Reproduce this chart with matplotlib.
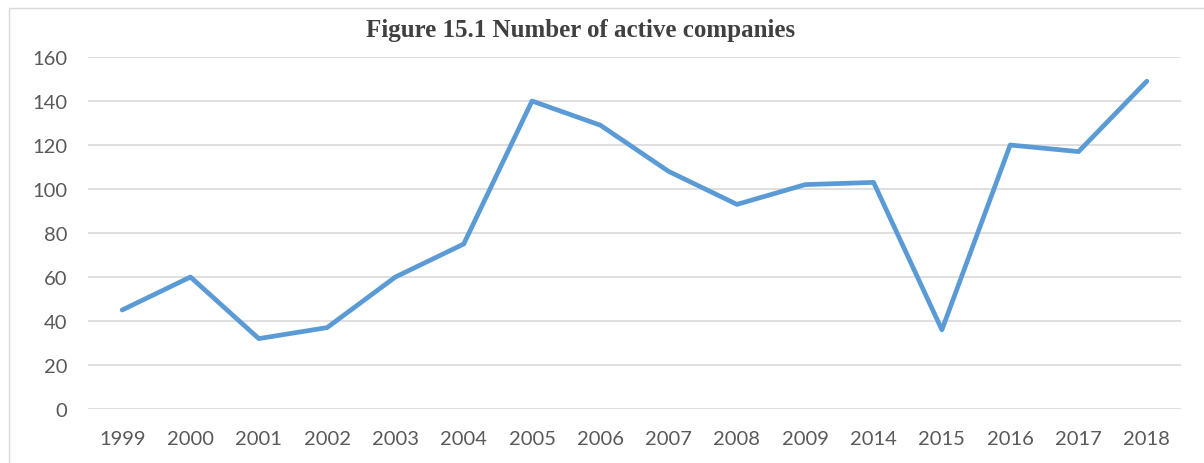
import numpy as np
import matplotlib.pyplot as plt
from matplotlib.patches import Rectangle

years = ['1999', '2000', '2001', '2002', '2003', '2004', '2005', '2006',
         '2007', '2008', '2009', '2014', '2015', '2016', '2017', '2018']
companies = [45, 60, 32, 37, 60, 75, 140, 129, 108, 93, 102, 103, 36, 120, 117, 149]
yticks = [0, 20, 40, 60, 80, 100, 120, 140, 160]

W, H = 1204, 464
fig = plt.figure(figsize=(W / 100, H / 100), dpi=100)
ax = fig.add_axes([88 / W, (H - 410) / H, (1181 - 88) / W, (410 - 58) / H])

x = np.arange(len(years))
ax.plot(x, companies, color='#5B9BD5', lw=3.4,
        solid_capstyle='round', solid_joinstyle='round', zorder=3)

ax.set_xlim(-0.5, len(years) - 0.5)
ax.set_ylim(0, 160)
ax.set_yticks(yticks)
ax.set_xticks(x)
ax.set_xticklabels(years)
ax.grid(axis='y', color='#D9D9D9', lw=1.2)
ax.set_axisbelow(True)
for s in ax.spines.values():
    s.set_visible(False)
ax.tick_params(length=0, labelsize=14.5, labelcolor='#595959', pad=15)
ax.tick_params(axis='y', pad=15)
for lab in ax.get_xticklabels() + ax.get_yticklabels():
    lab.set_family('Lato')

fig.text(581 / W, 1 - 30 / H, 'Figure 15.1 Number of active companies',
         ha='center', va='center', fontsize=18, fontweight='bold',
         family='Liberation Serif', color='#404040')

# outer chart border
fig.patches.append(Rectangle((9 / W, -0.1), 1.2, 1.1 - 9 / H,
                             transform=fig.transFigure, fill=False,
                             ec='#D9D9D9', lw=1.0))

fig.savefig('out.png', dpi=100)
